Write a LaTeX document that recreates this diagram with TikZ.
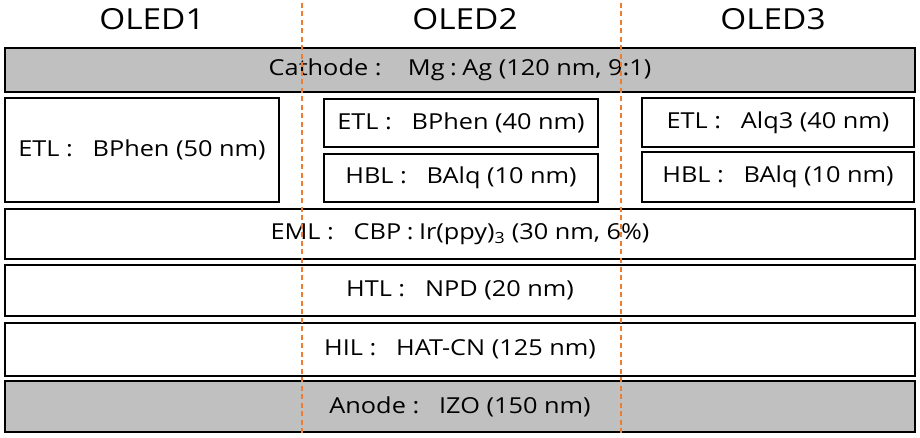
\documentclass[tikz,border=0pt]{standalone}
\usepackage{fontspec}
\setmainfont[FakeStretch=1.15]{Open Sans}
\definecolor{layergray}{RGB}{192,192,192}
\definecolor{dashorange}{RGB}{237,125,49}
\newcommand\bigsep{\hspace{0.3em}:\hspace{0.9em}}
\newcommand\smallsep{\hspace{0.25em}:\hspace{0.25em}}
\begin{document}
\begin{tikzpicture}[x=1pt,y=-1pt,
  layer/.style={draw=black, line width=1.8pt, inner sep=0pt, fill=white,
    font=\fontsize{22}{26}\selectfont},
  metal/.style={layer, fill=layergray},
  title/.style={font=\fontsize{29}{33}\selectfont, inner sep=0pt},
  divider/.style={draw=dashorange, line width=1.4pt, dash pattern=on 5pt off 3.5pt}]
\useasboundingbox (0,0) rectangle (920,438);
% titles
\node[title] (t1) at (152,19) {OLED1};
\node[title] (t2) at (465,19) {OLED2};
\node[title] (t3) at (773,19) {OLED3};
% layers
\node[metal, minimum width=910pt, minimum height=44pt] (cath) at (460,70)
  {Cathode\bigsep\hspace{0.3em}Mg\smallsep Ag (120 nm, 9:1)};
\node[layer, minimum width=274pt, minimum height=104pt] (etl1) at (142,150)
  {ETL\bigsep BPhen (50 nm)};
\node[layer, minimum width=274pt, minimum height=48pt] (etl2) at (461,123)
  {ETL\bigsep BPhen (40 nm)};
\node[layer, minimum width=274pt, minimum height=48pt] (hbl2) at (461,178)
  {HBL\bigsep BAlq (10 nm)};
\node[layer, minimum width=272pt, minimum height=49pt] (etl3) at (778,122.5)
  {ETL\bigsep Alq3 (40 nm)};
\node[layer, minimum width=272pt, minimum height=50pt] (hbl3) at (778,177)
  {HBL\bigsep BAlq (10 nm)};
\node[layer, minimum width=910pt, minimum height=50pt] (eml) at (460,234)
  {EML\bigsep CBP\smallsep Ir(ppy)\textsubscript{3} (30 nm, 6\%)};
\node[layer, minimum width=910pt, minimum height=51pt] (htl) at (460,290.5)
  {HTL\bigsep NPD (20 nm)};
\node[layer, minimum width=910pt, minimum height=53pt] (hil) at (460,349.5)
  {HIL\bigsep HAT-CN (125 nm)};
\node[metal, minimum width=910pt, minimum height=51pt] (anode) at (460,406.5)
  {Anode\bigsep IZO (150 nm)};
% dividers
\coordinate (d1a) at (302,3);
\coordinate (d1b) at (302,435);
\coordinate (d2a) at (621,3);
\coordinate (d2b) at (621,435);
\draw[divider] (d1a) -- (d1b);
\draw[divider] (d2a) -- (d2b);
\end{tikzpicture}
\end{document}
